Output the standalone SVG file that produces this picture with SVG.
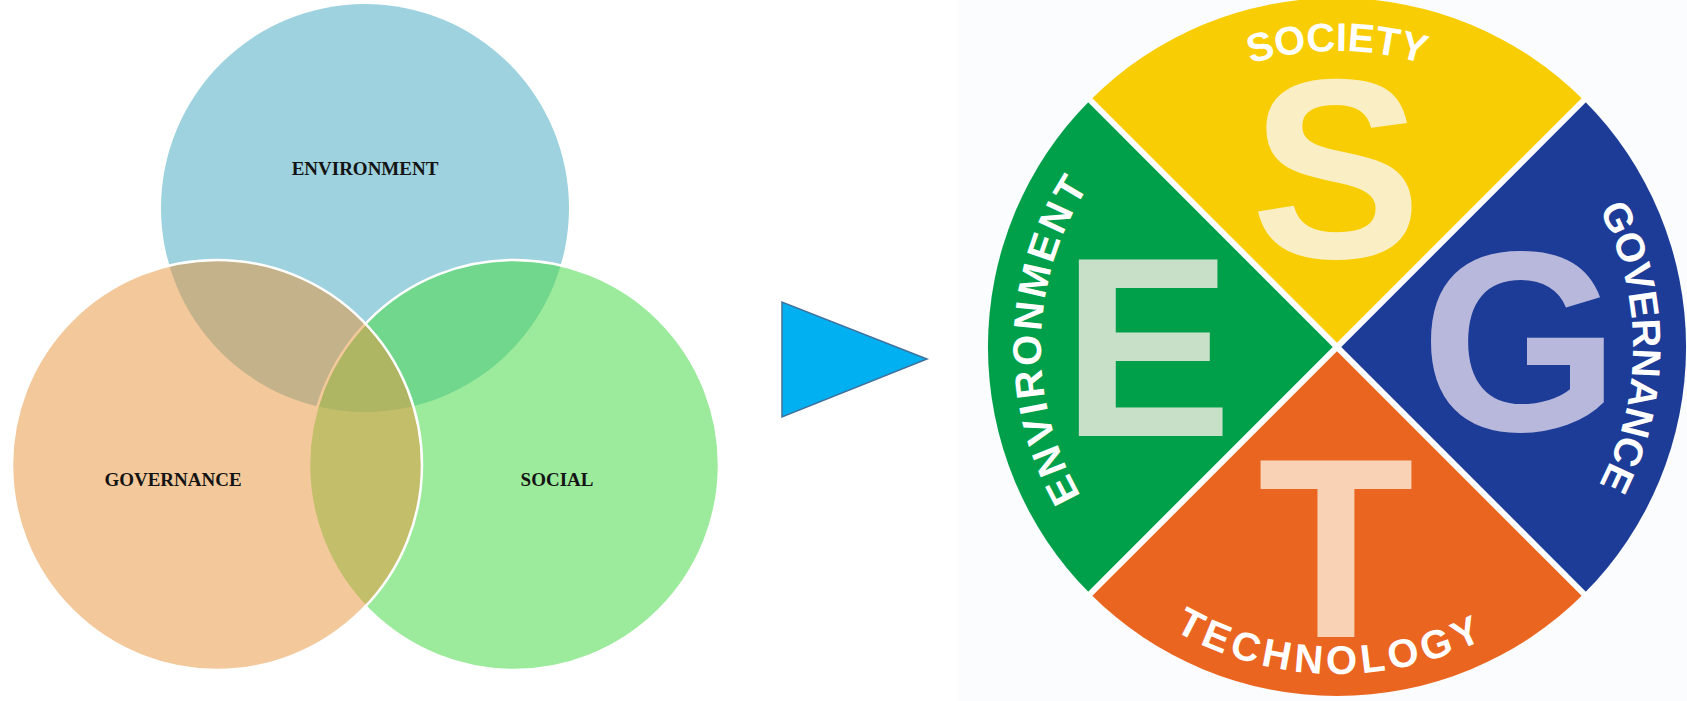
<svg xmlns="http://www.w3.org/2000/svg" width="1687" height="701" viewBox="0 0 1687 701">
  <style>
    .venn-label { font-family: "Liberation Serif", "DejaVu Serif", serif; font-weight: bold; font-size: 19px; fill: #141414; text-anchor: middle; }
    .big { font-family: "Liberation Sans", Arial, sans-serif; font-weight: bold; font-size: 256px; text-anchor: middle; }
    .arc { font-family: "Liberation Sans", Arial, sans-serif; font-weight: bold; font-size: 40px; fill: #ffffff; text-anchor: middle; }
    .ring { stroke: #ffffff; stroke-width: 2.5; }
  </style>
  <defs>
    <path id="p-soc" d="M 1041,347 A 296 296 0 0 1 1633,347"/>
    <path id="p-env" d="M 1337,643 A 296 296 0 0 1 1337,51"/>
    <path id="p-gov" d="M 1337,51 A 296 296 0 0 1 1337,643"/>
    <path id="p-tech" d="M 1010,347 A 327 327 0 0 0 1664,347"/>
  </defs>
  <rect x="0" y="0" width="1687" height="701" fill="#ffffff"/>
  <rect x="958" y="0" width="729" height="701" fill="#fafcfd"/>

  <!-- Venn diagram -->
  <g id="venn-environment">
    <circle cx="365" cy="208" r="204" fill="#9dd2de"/>
  </g>
  <g id="venn-social">
    <circle class="ring" cx="514" cy="465" r="205" fill="#4bdb4b" fill-opacity="0.55"/>
  </g>
  <g id="venn-governance">
    <circle class="ring" cx="217" cy="465" r="205" fill="#e8953d" fill-opacity="0.52"/>
  </g>
  <g id="venn-labels">
    <text class="venn-label" x="365" y="175">ENVIRONMENT</text>
    <text class="venn-label" x="173" y="486">GOVERNANCE</text>
    <text class="venn-label" x="557" y="486">SOCIAL</text>
  </g>

  <!-- Connector arrow -->
  <g id="connectors">
    <polygon points="782,302 782,417 927,359" fill="#00b0f0" stroke="#41719c" stroke-width="1.5" stroke-linejoin="miter"/>
  </g>

  <!-- SETG wheel -->
  <g id="wheel">
    <g id="sector-society">
      <path d="M 1337,347 L 1090.2,100.2 A 349 349 0 0 1 1583.8,100.2 Z" fill="#f9cd03"/>
    </g>
    <g id="sector-governance">
      <path d="M 1337,347 L 1583.8,100.2 A 349 349 0 0 1 1583.8,593.8 Z" fill="#1d3c97"/>
    </g>
    <g id="sector-technology">
      <path d="M 1337,347 L 1583.8,593.8 A 349 349 0 0 1 1090.2,593.8 Z" fill="#ea6520"/>
    </g>
    <g id="sector-environment">
      <path d="M 1337,347 L 1090.2,593.8 A 349 349 0 0 1 1090.2,100.2 Z" fill="#00a04b"/>
    </g>
    <g id="separators">
      <line x1="1087" y1="97" x2="1587" y2="597" stroke="#ffffff" stroke-width="6"/>
      <line x1="1587" y1="97" x2="1087" y2="597" stroke="#ffffff" stroke-width="6"/>
    </g>
    <g id="big-letters">
      <text class="big" x="1336" y="258" fill="#faefc4">S</text>
      <text class="big" x="1147" y="436" fill="#c8dfc8">E</text>
      <text class="big" x="1520" y="431" fill="#b8b8dc">G</text>
      <text class="big" x="1336" y="637" fill="#f9d1b5">T</text>
    </g>
    <g id="arc-labels">
      <text class="arc"><textPath href="#p-soc" startOffset="50%">SOCIETY</textPath></text>
      <text class="arc" letter-spacing="3"><textPath href="#p-env" startOffset="50.9%">ENVIRONMENT</textPath></text>
      <text class="arc"><textPath href="#p-gov" startOffset="50%">GOVERNANCE</textPath></text>
      <text class="arc" letter-spacing="4.5"><textPath href="#p-tech" startOffset="49.3%">TECHNOLOGY</textPath></text>
    </g>
  </g>
</svg>
